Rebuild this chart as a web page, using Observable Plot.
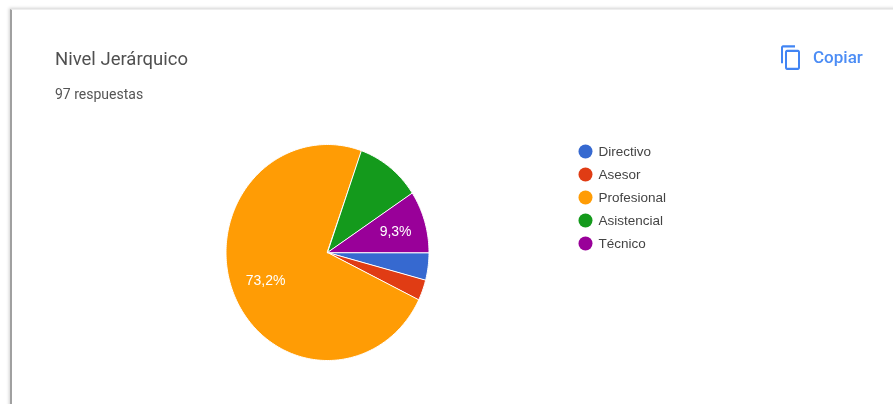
<!DOCTYPE html>
<html><head><meta charset="utf-8">
<script src="https://cdn.jsdelivr.net/npm/d3@7"></script>
<script src="https://cdn.jsdelivr.net/npm/@observablehq/plot@0.6"></script>
<style>
html,body{margin:0;padding:0;background:#fff;overflow:hidden}
#stage{position:relative;width:893px;height:404px;overflow:hidden;filter:blur(.5px)}
#card{position:absolute;left:10px;top:9px;width:900px;height:420px;background:#fff;box-shadow:-1px -1px 3px rgba(0,0,0,.18);border-left:2px solid #a0a0a0;border-top:1px solid #eee}
.t{position:absolute;white-space:nowrap;font-family:Roboto,sans-serif}
#stage svg{position:absolute;left:0;top:0;background:transparent;overflow:visible}
</style></head><body>
<div id="stage">
<div id="card"></div>
<div class="t" style="left:55px;top:48px;font-size:18.5px;line-height:22px;color:#505050">Nivel Jerárquico</div>
<div class="t" style="left:55px;top:86px;font-size:14px;line-height:17px;color:#555">97 respuestas</div>
<svg style="left:779px;top:44px" width="24" height="27" viewBox="0 0 24 24" preserveAspectRatio="none"><path fill="#4285f4" d="M16 1H4c-1.1 0-2 .9-2 2v14h2V3h12V1zm3 4H8c-1.1 0-2 .9-2 2v14c0 1.1.9 2 2 2h11c1.1 0 2-.9 2-2V7c0-1.1-.9-2-2-2zm0 16H8V7h11v14z"/></svg>
<div class="t" style="left:813px;top:47px;font-size:17px;line-height:20px;font-weight:500;color:#4c8df5">Copiar</div>
</div>
<script>
const categories = ["Directivo","Asesor","Profesional","Asistencial","Técnico"];
const counts = [4,3,71,10,9];
const colors = ["#3669d0","#e03c14","#ff9c05","#149a1c","#990099"];
const labels = [null,null,"73,2%",null,"9,3%"];

const total = d3.sum(counts);
const toXY = (turn, r) => {
  const a = 2*Math.PI*turn;
  return {x: r*Math.cos(a), y: -r*Math.sin(a)};
};
let run = 0;
const outline = [], labelRows = [];
categories.forEach((name,i)=>{
  const a0 = run/total, a1 = (run+counts[i])/total;
  outline.push({name, ...toXY(0,0)});
  const n = Math.max(2, Math.ceil((a1-a0)*360));
  for(let k=0;k<=n;k++) outline.push({name, ...toXY(a0+(a1-a0)*k/n,1)});
  if(labels[i]) labelRows.push({label:labels[i], ...toXY((a0+a1)/2,.68)});
  run += counts[i];
});
const color = {domain:categories, range:colors};

const pie = Plot.plot({
  width:893,height:404,margin:0,
  style:{background:"transparent"},
  x:{domain:[-1,1],range:[225.5,428.5],axis:null},
  y:{domain:[-1,1],range:[360,144],axis:null},
  color,
  marks:[
    Plot.line(outline,{x:"x",y:"y",z:"name",fill:"name",stroke:"#fff",strokeWidth:1,curve:"linear-closed"}),
    Plot.text(labelRows,{x:"x",y:"y",text:"label",dx:2,fill:"#fff",fontSize:14,fontFamily:"Liberation Sans, Arial, sans-serif"})
  ]
});
const legend = Plot.plot({
  width:893,height:404,margin:0,
  style:{background:"transparent"},
  x:{domain:[0,1],range:[585,598],axis:null},
  y:{type:"point",domain:categories,range:[151,243],padding:0,axis:null},
  color,
  marks:[
    Plot.dot(categories,{x:()=>0,y:d=>d,r:7,fill:d=>d}),
    Plot.text(categories,{x:()=>1,y:d=>d,text:d=>d,textAnchor:"start",fill:"#444",fontSize:13.5,fontFamily:"Liberation Sans, Arial, sans-serif"})
  ]
});
const stage=document.getElementById("stage");
stage.append(pie,legend);
</script>
</body></html>
